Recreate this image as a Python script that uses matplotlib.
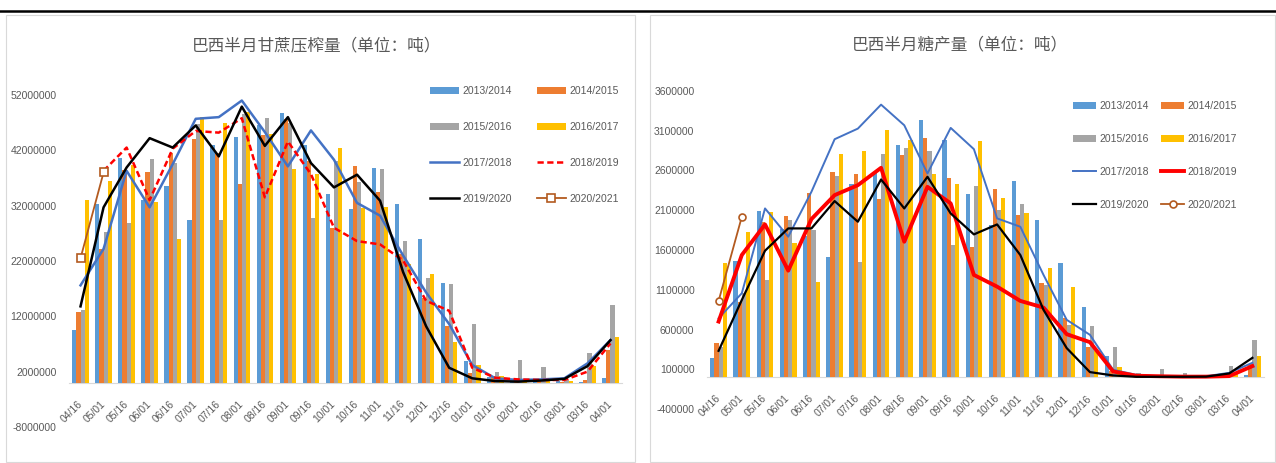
import numpy as np
from matplotlib import pyplot as plt
from matplotlib.patches import Rectangle
from matplotlib.lines import Line2D
from matplotlib.ticker import FuncFormatter

plt.rcParams['font.family'] = ['Liberation Sans', 'Noto Sans CJK SC', 'DejaVu Sans']

periods = ['04/16', '05/01', '05/16', '06/01', '06/16', '07/01', '07/16', '08/01',
           '08/16', '09/01', '09/16', '10/01', '10/16', '11/01', '11/16', '12/01',
           '12/16', '01/01', '01/16', '02/01', '02/16', '03/01', '03/16', '04/01']
seasons = ['2013/2014', '2014/2015', '2015/2016', '2016/2017',
           '2017/2018', '2018/2019', '2019/2020', '2020/2021']
nan = np.nan

# cane crushing, million t
cane_1314 = [9.6, 32.3, 40.6, 33.0, 35.6, 29.4, 43.0, 44.4, 46.5, 48.8, 43.0, 34.1,
             31.4, 38.8, 32.3, 26.0, 18.1, 4.0, 1.0, 0.3, 0.3, 0.3, 0.2, 0.9]
cane_1415 = [12.7, 24.2, 38.5, 38.0, 41.5, 44.1, 41.5, 35.9, 44.8, 47.6, 40.0, 28.0,
             39.2, 34.4, 23.3, 15.3, 10.2, 1.8, 1.2, 0.3, 0.3, 0.2, 0.5, 6.0]
cane_1516 = [13.2, 27.2, 28.9, 40.5, 39.7, 46.7, 29.4, 48.5, 47.8, 47.0, 29.7, 40.0,
             36.3, 38.7, 25.7, 18.9, 17.9, 10.6, 1.9, 4.1, 2.8, 0.5, 5.3, 14.1]
cane_1617 = [33.0, 36.4, 39.4, 32.6, 26.0, 48.1, 47.0, 49.0, 45.0, 38.6, 37.8, 42.4,
             31.6, 31.8, 21.4, 19.7, 7.3, 3.2, 1.3, 0.3, 0.3, 0.3, 3.0, 8.2]
cane_1718 = [17.6, 24.2, 38.3, 31.7, 39.5, 47.7, 48.0, 51.0, 45.3, 39.1, 45.6, 40.3,
             32.5, 30.2, 23.0, 16.3, 10.6, 3.2, 0.8, 0.5, 0.6, 0.8, 3.5, 7.7]
cane_1819 = [nan, 38.3, 42.5, 33.0, 42.3, 45.5, 45.2, 47.8, 33.5, 43.6, 37.7, 28.0,
             25.6, 25.0, 22.1, 14.8, 13.0, 2.7, 0.9, 0.6, 0.5, 0.5, 2.0, 7.1]
cane_1920 = [13.8, 31.7, 38.9, 44.2, 42.5, 46.5, 40.9, 49.9, 42.8, 48.0, 39.7, 35.3,
             37.6, 32.9, 20.0, 10.2, 2.7, 0.8, 0.3, 0.2, 0.4, 0.7, 3.0, 7.7]
cane_2021 = [22.5, 38.0]

# sugar production, thousand t
sugar_1314 = [245, 1462, 2089, 1860, 1780, 1508, 2423, 2565, 2916, 3229, 2980, 2302,
              1913, 2464, 1976, 1433, 881, 263, 30, 10, 10, 10, 17, 25]
sugar_1415 = [430, 944, 1950, 2030, 2318, 2581, 2548, 2239, 2790, 3012, 2506, 1633,
              2364, 2038, 1190, 744, 388, 75, 20, 10, 10, 10, 38, 163]
sugar_1516 = [380, 1057, 1224, 1976, 1850, 2531, 1454, 2803, 2882, 2845, 1662, 2406,
              2101, 2176, 1161, 660, 647, 380, 54, 100, 58, 25, 142, 474]
sugar_1617 = [1437, 1821, 2072, 1692, 1203, 2803, 2845, 3112, 2978, 2548, 2423, 2966,
              2247, 2059, 1370, 1140, 326, 125, 20, 10, 10, 10, 38, 273]
sugar_1718 = [743, 1057, 2122, 1767, 2331, 2991, 3124, 3425, 3166, 2561, 3133, 2866,
              1997, 1892, 1287, 723, 535, 96, 33, 15, 15, 15, 58, 184]
sugar_1819 = [702, 1537, 1921, 1341, 1988, 2289, 2414, 2632, 1704, 2393, 2185, 1287,
              1140, 961, 877, 543, 443, 75, 21, 15, 10, 10, 17, 142]
sugar_1920 = [334, 973, 1591, 1871, 1871, 2214, 1955, 2485, 2122, 2519, 2059, 1796,
              1921, 1537, 848, 368, 67, 25, 8, 8, 8, 10, 50, 246]
sugar_2021 = [961, 2017]

bar_colors = ['#5B9BD5', '#ED7D31', '#A5A5A5', '#FFC000']
txt = '#595959'
W, H = 1276, 463

fig = plt.figure(figsize=(W / 100, H / 100), dpi=100)

# top rule and panel borders
fig.add_artist(Line2D([0, 1], [1 - 11 / H] * 2, color='black', lw=1.8,
                      transform=fig.transFigure))
for x0, x1 in [(6, 635), (650, 1275)]:
    fig.add_artist(Rectangle((x0 / W, 1 / H), (x1 - x0) / W, 447 / H, fill=False,
                             ec='#d9d9d9', lw=0.8, transform=fig.transFigure))


def panel(rect, bars, lines, scale, ylim, ystep, title, title_xy, leg_xy, leg_opts):
    ax = fig.add_axes(rect)
    ax.set_facecolor('none')
    x = np.arange(len(periods))
    bw = 0.18
    handles = []
    for k, vals in enumerate(bars):
        h = ax.bar(x + (k - 1.5) * bw, np.array(vals) * scale, bw,
                   color=bar_colors[k], zorder=2)
        handles.append(h)
    for vals, style in lines:
        h, = ax.plot(x[:len(vals)], np.array(vals) * scale, zorder=3, **style)
        handles.append(h)
    for s in ['top', 'right', 'left']:
        ax.spines[s].set_visible(False)
    ax.spines['bottom'].set_position(('data', 0))
    ax.spines['bottom'].set_color('#d9d9d9')
    ax.spines['bottom'].set_zorder(1)
    ax.set_xlim(-0.5, len(periods) - 0.5)
    ax.set_ylim(*ylim)
    ax.set_yticks(np.arange(ylim[0], ylim[1] + 1, ystep))
    ax.yaxis.set_major_formatter(FuncFormatter(lambda v, p: f'{v:.0f}'))
    ax.set_xticks(x)
    ax.tick_params(axis='both', length=0, labelsize=7.5, colors=txt)
    ax.tick_params(axis='x', pad=14)
    ax.tick_params(axis='y', pad=9)
    ax.set_xticklabels(periods, rotation=45, ha='right', va='center',
                       rotation_mode='anchor')
    fig.text(title_xy[0] / W, 1 - title_xy[1] / H, title, fontsize=12, color=txt,
             ha='center', va='center', family=['Noto Sans CJK SC', 'DejaVu Sans'])
    order = [0, 2, 4, 6, 1, 3, 5, 7]
    leg = ax.legend([handles[i] for i in order], [seasons[i] for i in order], ncol=2,
                    loc='upper left', bbox_to_anchor=(leg_xy[0] / W, 1 - leg_xy[1] / H),
                    bbox_transform=fig.transFigure, frameon=False, fontsize=7.5,
                    borderpad=0, borderaxespad=0, handletextpad=0.3, **leg_opts)
    for t in leg.get_texts():
        t.set_color(txt)
    return ax


brown = '#B35A1F'

panel([69 / W, 1 - 427 / H, 553 / W, 332 / H],
      [cane_1314, cane_1415, cane_1516, cane_1617],
      [(cane_1718, dict(color='#4472C4', lw=1.8)),
       (cane_1819, dict(color='#FF0000', lw=1.8, ls=(0, (2.5, 1.4)))),
       (cane_1920, dict(color='black', lw=1.8)),
       (cane_2021, dict(color=brown, lw=1.3, marker='s', ms=5.5, mfc='white',
                        mec=brown, mew=1.2))],
      1e6, (-8000000, 52000000), 10000000,
      '巴西半月甘蔗压榨量（单位：吨）', (317, 46), (430, 86),
      dict(handlelength=2.8, columnspacing=2.4, labelspacing=2.5))

panel([707 / W, 1 - 409.3 / H, 557 / W, 318.6 / H],
      [sugar_1314, sugar_1415, sugar_1516, sugar_1617],
      [(sugar_1718, dict(color='#4472C4', lw=1.4)),
       (sugar_1819, dict(color='#FF0000', lw=2.8)),
       (sugar_1920, dict(color='black', lw=1.6)),
       (sugar_2021, dict(color=brown, lw=1.3, marker='o', ms=5, mfc='white',
                         mec=brown, mew=1.2))],
      1e3, (-400000, 3600000), 500000,
      '巴西半月糖产量（单位：吨）', (960, 45), (1073, 101),
      dict(handlelength=2.2, columnspacing=1.2, labelspacing=2.2))

fig.savefig('out.png', dpi=100, facecolor='white')
